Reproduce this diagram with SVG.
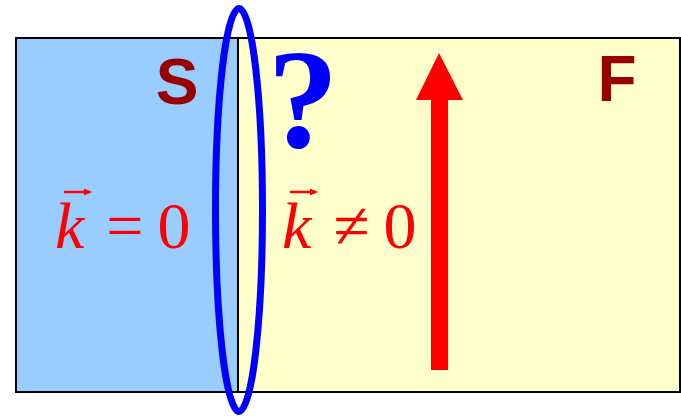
<svg xmlns="http://www.w3.org/2000/svg" width="681" height="420" viewBox="0 0 681 420">
<defs>
<style>
.lbl{font-family:"Liberation Sans",Arial,sans-serif;font-weight:bold;fill:#990000;font-size:64px}
.math{font-family:"Liberation Serif","Times New Roman",serif;fill:#ff0000;font-size:66px}
.vec{stroke:#ff0000;stroke-width:2.5;fill:none}
</style>
<marker id="vh" markerWidth="8" markerHeight="8" refX="6" refY="4" orient="auto" markerUnits="userSpaceOnUse">
<path d="M0,0.5 L8,4 L0,7.5 Z" fill="#ff0000"/>
</marker>
</defs>
<g id="S-region">
<rect x="16" y="38" width="222" height="354" fill="#99ccff" stroke="#000" stroke-width="2"/>
<text class="lbl" x="177" y="104" text-anchor="middle">S</text>
<line class="vec" x1="64" y1="192" x2="90" y2="192" marker-end="url(#vh)"/>
<text class="math" x="55" y="248"><tspan font-style="italic">k</tspan><tspan dx="22">=</tspan><tspan dx="14">0</tspan></text>
</g>
<g id="F-region">
<rect x="238" y="38" width="442" height="354" fill="#ffffcc" stroke="#000" stroke-width="2"/>
<text class="lbl" x="617" y="101" text-anchor="middle">F</text>
<line class="vec" x1="290" y1="192" x2="316" y2="192" marker-end="url(#vh)"/>
<text class="math" x="282" y="248"><tspan font-style="italic">k</tspan><tspan dx="22">≠</tspan><tspan dx="14">0</tspan></text>
<text x="303" y="147" text-anchor="middle" font-family="Liberation Serif,'Times New Roman',serif" font-weight="bold" font-size="142" fill="#0000ff">?</text>
</g>
<g id="connectors">
<path d="M431,370 L431,100 L416,100 L439,53 L463,100 L448,100 L448,370 Z" fill="#ff0000"/>
</g>
<g id="interface">
<ellipse cx="239" cy="210" rx="23.5" ry="201.5" fill="none" stroke="#0000ff" stroke-width="7"/>
</g>
</svg>
